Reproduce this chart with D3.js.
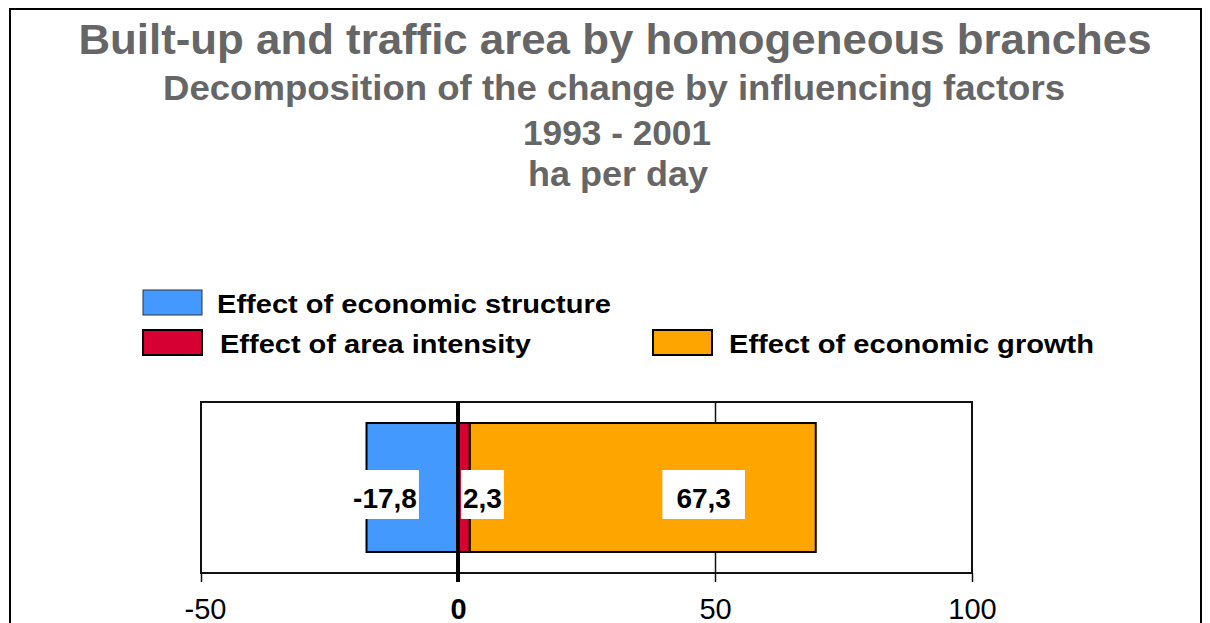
<!DOCTYPE html>
<html>
<head>
<meta charset="utf-8">
<script src="https://cdn.jsdelivr.net/npm/d3@7"></script>
<style>
  html, body { margin: 0; padding: 0; background: #fff; }
  svg { display: block; font-family: "Liberation Sans", Arial, sans-serif; }
</style>
</head>
<body>
<div id="chart"></div>
<script>
// Data
let factors     =   ['structure', 'intensity', 'growth'];
let factorNames =   ['Effect of economic structure', 'Effect of area intensity', 'Effect of economic growth'];
let values      =   [-17.8, 2.3, 67.3];
let valueLabels =   ['-17,8', '2,3', '67,3'];
let tickValues  =   [-50, 0, 50, 100];
let titleLines  =   ['Built-up and traffic area by homogeneous branches',
                     'Decomposition of the change by influencing factors',
                     '1993 - 2001',
                     'ha per day'];

let colors      =   ['#4499ff', '#d70033', '#ffa500'];

let chart_width  = 1210;
let chart_height = 623;

// plot area
let plot = { left: 201, right: 972, top: 402, bottom: 573 };

let svg = d3.select('#chart')
    .append('svg')
    .attr('width', chart_width)
    .attr('height', chart_height);

// outer frame
svg.append('rect')
    .attr('x', 10).attr('y', 9)
    .attr('width', 1191).attr('height', 640)
    .attr('fill', 'none')
    .attr('stroke', '#000')
    .attr('stroke-width', 2);

// titles (the original text is drawn a bit wider than Arial, so stretch it)
let titleStyle = [
    { x: 615, y: 54, size: 43, w: 1073 },
    { x: 614, y: 100, size: 35, w: 902 },
    { x: 617, y: 145, size: 35, w: 188 },
    { x: 618, y: 186, size: 35, w: 180 }
];
svg.selectAll('text.title')
    .data(titleLines)
    .enter()
    .append('text')
    .attr('class', 'title')
    .attr('x', (d, i) => titleStyle[i].x)
    .attr('y', (d, i) => titleStyle[i].y)
    .attr('text-anchor', 'middle')
    .attr('font-weight', 'bold')
    .attr('font-size', (d, i) => titleStyle[i].size)
    .attr('textLength', (d, i) => titleStyle[i].w)
    .attr('lengthAdjust', 'spacingAndGlyphs')
    .attr('fill', '#666666')
    .text(d => d);

// legend
let legendPos = [
    { x: 143, y: 290, tx: 217, w: 394 },
    { x: 143, y: 330, tx: 220, w: 311 },
    { x: 653, y: 330, tx: 729, w: 365 }
];
let legend = svg.selectAll('g.legend')
    .data(factorNames)
    .enter()
    .append('g')
    .attr('class', 'legend');

legend.append('rect')
    .attr('x', (d, i) => legendPos[i].x)
    .attr('y', (d, i) => legendPos[i].y)
    .attr('width', 59)
    .attr('height', 25)
    .attr('fill', (d, i) => colors[i])
    .attr('stroke', (d, i) => i === 0 ? '#333' : '#000')
    .attr('stroke-width', (d, i) => i === 0 ? 1 : 2);

legend.append('text')
    .attr('x', (d, i) => legendPos[i].tx)
    .attr('y', (d, i) => legendPos[i].y + 23)
    .attr('font-size', 25)
    .attr('font-weight', 'bold')
    .attr('textLength', (d, i) => legendPos[i].w)
    .attr('lengthAdjust', 'spacingAndGlyphs')
    .attr('fill', '#000')
    .text(d => d);

// scales
let xScale = d3.scaleLinear()
    .domain([tickValues[0], tickValues[tickValues.length - 1]])
    .range([plot.left, plot.right]);

let yScale = d3.scaleBand()
    .domain(['all'])
    .range([plot.top, plot.bottom])
    .paddingInner(0)
    .paddingOuter(0.163);

// stack
let row = { key: 'all' };
factors.forEach((f, i) => { row[f] = values[i]; });
let series = d3.stack()
    .keys(factors)
    .offset(d3.stackOffsetDiverging)([row]);

// plot frame
svg.append('rect')
    .attr('x', plot.left).attr('y', plot.top)
    .attr('width', plot.right - plot.left)
    .attr('height', plot.bottom - plot.top)
    .attr('fill', '#fff')
    .attr('stroke', '#111')
    .attr('stroke-width', 2);

// gridlines
svg.append('g')
    .attr('transform', 'translate(0,' + plot.bottom + ')')
    .call(d3.axisBottom(xScale)
        .tickValues([50])
        .tickSize(-(plot.bottom - plot.top))
        .tickFormat(''))
    .call(g => g.select('.domain').remove())
    .call(g => g.selectAll('line').attr('stroke', '#111').attr('stroke-width', 1.5));

// bars
svg.selectAll('rect.bar')
    .data(series)
    .enter()
    .append('rect')
    .attr('class', 'bar')
    .attr('x', d => xScale(Math.min(d[0][0], d[0][1])))
    .attr('y', yScale('all'))
    .attr('width', d => Math.abs(xScale(d[0][1]) - xScale(d[0][0])))
    .attr('height', yScale.bandwidth())
    .attr('fill', (d, i) => colors[i])
    .attr('stroke', '#000')
    .attr('stroke-width', 2);

// axis
let axis = svg.append('g')
    .attr('transform', 'translate(0,' + plot.bottom + ')')
    .call(d3.axisBottom(xScale)
        .tickValues(tickValues)
        .tickSize(9)
        .tickPadding(16)
        .tickFormat(d => String(d)));
axis.select('.domain').remove();
axis.selectAll('line').attr('stroke', '#111').attr('stroke-width', 1.5);
axis.selectAll('text')
    .attr('font-family', '"Liberation Sans", Arial, sans-serif')
    .attr('font-size', 29)
    .attr('fill', '#000')
    .attr('dx', d => d < 0 ? 4 : 0)
    .attr('font-weight', d => d === 0 ? 'bold' : 'normal');

// zero line
svg.append('line')
    .attr('x1', xScale(0)).attr('x2', xScale(0))
    .attr('y1', plot.top).attr('y2', plot.bottom + 9)
    .attr('stroke', '#000')
    .attr('stroke-width', 4);

// value labels (placed where the original puts them, in axis units)
let labelAt   = [-14.2, 4.75, 47.8];
let labelPadX = [2, 2, 14];
let labels = svg.selectAll('g.label')
    .data(valueLabels)
    .enter()
    .append('g')
    .attr('class', 'label');

labels.append('rect').attr('fill', '#fff');
labels.append('text')
    .attr('x', (d, i) => xScale(labelAt[i]))
    .attr('y', 508)
    .attr('text-anchor', 'middle')
    .attr('font-size', 28)
    .attr('font-weight', 'bold')
    .attr('fill', '#000')
    .text(d => d);

labels.each(function(d, i) {
    let g = d3.select(this);
    let bb = g.select('text').node().getBBox();
    g.select('rect')
        .attr('x', bb.x - labelPadX[i])
        .attr('y', 470)
        .attr('width', bb.width + 2 * labelPadX[i])
        .attr('height', 49);
});
</script>
</body>
</html>
